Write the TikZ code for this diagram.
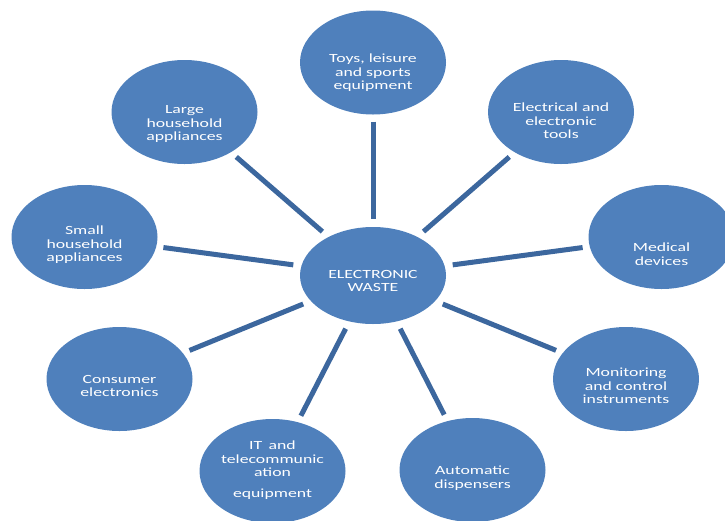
\documentclass[tikz,border=0pt]{standalone}
\usepackage{fontspec}
\usepackage{tikz}
\usetikzlibrary{shapes.geometric}

\newfontfamily\lblfont[FakeStretch=1.42]{Carlito}
\definecolor{itemblue}{RGB}{79,128,188}
\definecolor{spokeblue}{RGB}{60,103,158}

\begin{document}
\begin{tikzpicture}[x=1pt,y=-1pt,
	item/.style={ellipse,fill=itemblue,minimum width=146pt,minimum height=104pt,inner sep=0pt},
	lbl/.style={text=white,align=center,font=\lblfont\fontsize{12.5}{13.5}\selectfont},
	spoke/.style={draw=spokeblue,line width=5pt,shorten <=7pt,shorten >=8pt}]

	\useasboundingbox (0,0) rectangle (725,520);

	\node[item,minimum height=97pt] (waste) at (373,275.5) {};
	\node[lbl] (twaste) at (373,281) {ELECTRONIC\\WASTE};

	% outer items: name / x / y / text y / text
	\foreach \name/\x/\y/\ty/\txt in {
		toys/373/62.5/73/{Toys, leisure\\and sports\\equipment},
		tools/561/112/121/{Electrical and\\electronic\\tools},
		large/184.5/112/124/{Large\\household\\appliances},
		small/84.5/237/245/{Small\\household\\appliances},
		medical/661.5/237/254/{Medical\\devices},
		consumer/119.5/379/386/{Consumer\\electronics},
		monitor/626/379/386/{Monitoring\\and control\\instruments},
		dispense/472.5/470/478/{Automatic\\dispensers},
		it/272.5/471/470/{IT\enspace and\\telecommunic\\ation\\[7pt]equipment}}
	{
		\node[item] (\name) at (\x,\y) {};
		\node[lbl] (t\name) at (\x,\ty) {\txt};
		\draw[spoke] (\name) to (waste);
	}

\end{tikzpicture}
\end{document}
